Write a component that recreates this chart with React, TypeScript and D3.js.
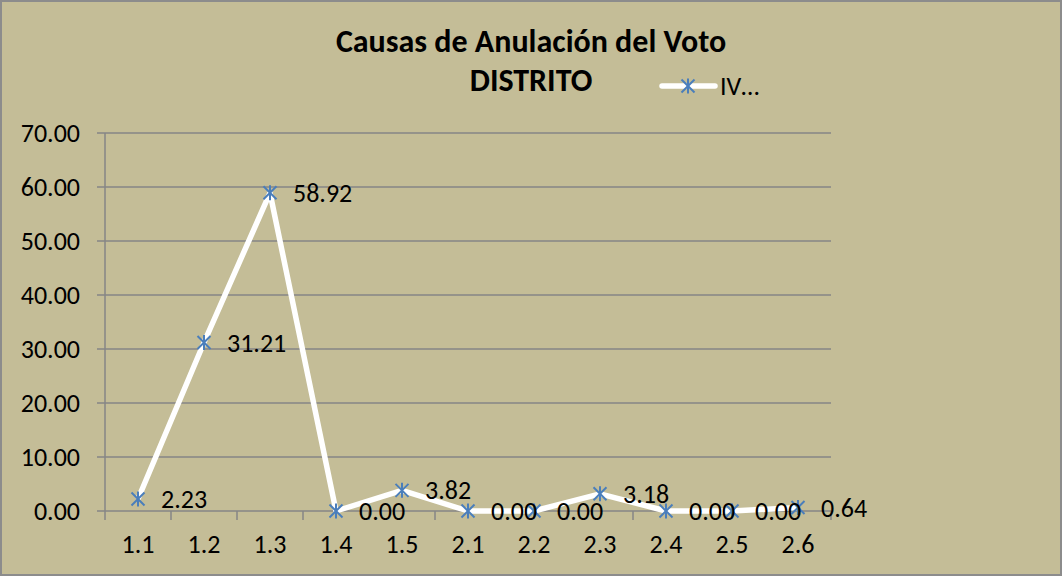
import React from 'react';
import * as d3 from 'd3';

const categories = ["1.1", "1.2", "1.3", "1.4", "1.5", "2.1", "2.2", "2.3", "2.4", "2.5", "2.6"];
const values = [2.23, 31.21, 58.92, 0.0, 3.82, 0.0, 0.0, 3.18, 0.0, 0.0, 0.64];
const yTicks = [0, 10, 20, 30, 40, 50, 60, 70];
const titleLines = ["Causas de Anulación del Voto", "DISTRITO"];
const seriesName = "IV…";

const W = 1062;
const H = 576;
const font = "Carlito, Lato, 'Open Sans', sans-serif";
const bg = "#c4bd97";
const gridColor = "#868686";
const markerColor = "#4a7ebb";

const Star = ({ x, y }: { x: number; y: number }) => {
  const r = 6.5;
  return (
    <g stroke={markerColor} strokeWidth={2}>
      <line x1={x - r} y1={y - r} x2={x + r} y2={y + r} />
      <line x1={x - r} y1={y + r} x2={x + r} y2={y - r} />
      <line x1={x} y1={y - r - 1} x2={x} y2={y + r + 1} />
    </g>
  );
};

export default function App() {
  const margin = { left: 105, right: 831, top: 133, bottom: 511 };

  const x = d3.scaleBand<string>()
    .domain(categories)
    .range([margin.left, margin.right]);

  const y = d3.scaleLinear()
    .domain([0, 70])
    .range([margin.bottom, margin.top]);

  const cx = (c: string) => (x(c) ?? 0) + x.bandwidth() / 2;

  const line = d3.line<number>()
    .x((_, i) => cx(categories[i]))
    .y(d => y(d));

  const bounds = [...categories.map(c => x(c) ?? 0), margin.right];

  return (
    <svg width={W} height={H} style={{ position: 'absolute', left: 0, top: 0 }} fontFamily={font}>
      <rect x={1} y={1} width={W - 2} height={H - 2} fill={bg} stroke="#8c8c8c" strokeWidth={2} />

      {/* title */}
      <text x={531} y={52} textAnchor="middle" fontWeight="bold" fontSize={32}>{titleLines[0]}</text>
      <text x={531} y={91} textAnchor="middle" fontWeight="bold" fontSize={32}>{titleLines[1]}</text>

      {/* grid + y axis */}
      {yTicks.map(t => (
        <g key={t}>
          <line x1={margin.left - 8} x2={margin.right} y1={y(t)} y2={y(t)} stroke={gridColor} strokeWidth={1.5} />
          <text x={80} y={y(t)} dy="0.35em" textAnchor="end" fontSize={26}>{t.toFixed(2)}</text>
        </g>
      ))}
      <line x1={margin.left} x2={margin.left} y1={margin.top} y2={margin.bottom} stroke={gridColor} strokeWidth={1.5} />

      {/* x axis ticks */}
      {bounds.map((b, i) => (
        <line key={i} x1={b} x2={b} y1={margin.bottom} y2={margin.bottom + 9} stroke={gridColor} strokeWidth={1.5} />
      ))}
      {categories.map(c => (
        <text key={c} x={cx(c)} y={553} textAnchor="middle" fontSize={26}>{c}</text>
      ))}

      {/* series */}
      <path d={line(values) ?? ''} fill="none" stroke="#ffffff" strokeWidth={5.5} strokeLinejoin="round" />
      {values.map((v, i) => (
        <Star key={i} x={cx(categories[i])} y={y(v)} />
      ))}
      {values.map((v, i) => (
        <text key={i} x={cx(categories[i]) + 23} y={y(v)} dy="0.35em" fontSize={26}>{v.toFixed(2)}</text>
      ))}

      {/* legend */}
      <line x1={662} x2={715} y1={86} y2={86} stroke="#ffffff" strokeWidth={5.5} strokeLinecap="round" />
      <Star x={688} y={86} />
      <text x={720} y={86} dy="0.35em" fontSize={26}>{seriesName}</text>
    </svg>
  );
}
